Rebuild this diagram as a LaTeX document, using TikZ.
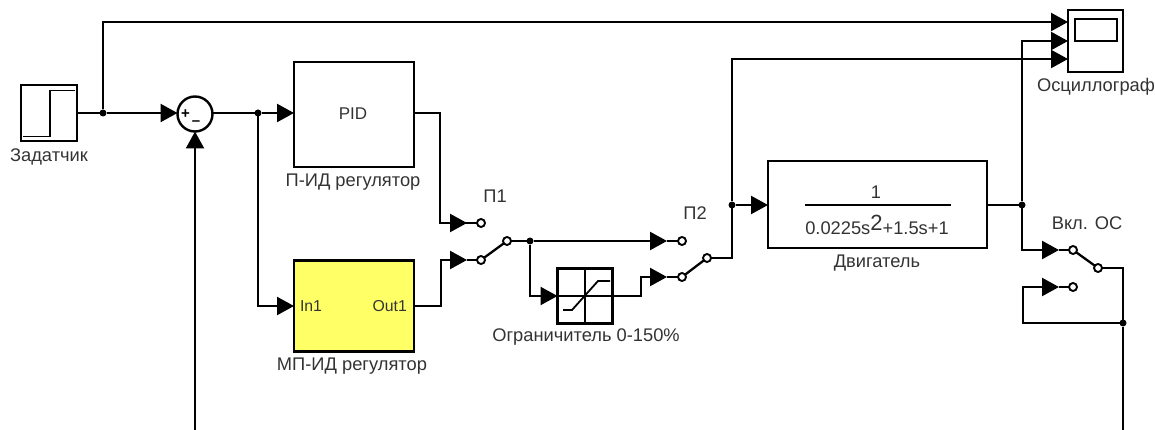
\documentclass[tikz,border=0pt]{standalone}
\usepackage{fontspec}
\setmainfont{Liberation Sans}
\usetikzlibrary{arrows.meta,calc}
\definecolor{txt}{HTML}{333333}
\definecolor{blockyellow}{HTML}{FFFF66}
\tikzset{
  x=1pt,y=-1pt,
  wire/.style={line width=2.3pt,draw=black,line join=miter},
  feed/.style={wire,-{Triangle[length=17pt,width=18pt]}},
  block/.style={draw=black,line width=2.4pt,inner sep=0pt,outer sep=0pt,fill=white},
  port/.style={circle,draw=black,line width=1.9pt,fill=white,minimum size=8pt,inner sep=0pt,outer sep=0pt},
  dot/.style={circle,fill=black,minimum size=7pt,inner sep=0pt,outer sep=0pt},
  lbl/.style={text=txt,font=\fontsize{18.3}{20}\selectfont,inner sep=0pt},
  small/.style={text=txt,font=\fontsize{15.8}{18}\selectfont,inner sep=0pt}
}
\begin{document}
\begin{tikzpicture}
\useasboundingbox (0,0) rectangle (1155,430);
% blocks
\node[block,minimum width=56pt,minimum height=56pt] (step) at (49,113) {};
\node[block,circle,minimum size=35pt] (sum) at (195,114) {};
\node[block,minimum width=120pt,minimum height=105pt] (pid) at (354,114.5) {};
\node[small,font=\fontsize{17}{18}\selectfont] (pidt) at (353,114) {PID};
\node[block,fill=blockyellow,minimum width=120pt,minimum height=91pt] (mp) at (354,306) {};
\node[small] (in1) at (311,306) {In1};
\node[small,anchor=east] (out1) at (407,306) {Out1};
\node[block,minimum width=55pt,minimum height=55pt] (sat) at (585,296) {};
\node[block,minimum width=219pt,minimum height=87pt] (tf) at (877.5,204.5) {};
\node[block,minimum width=55pt,minimum height=62pt] (scope) at (1095.5,41) {};
\node[draw=black,line width=2.2pt,minimum width=42pt,minimum height=22pt,inner sep=0pt] (screen) at (1096,30) {};
% block glyphs
\draw[line width=1.8pt] (23,136.5) -- (50,136.5) -- (50,90.5) -- (75,90.5);
\node[lbl,font=\bfseries\fontsize{15}{15}\selectfont,text=black] (plus) at (185.5,114) {+};
\node[lbl,font=\bfseries\fontsize{15}{15}\selectfont,text=black] (minus) at (196,123) {–};
\draw[line width=1.6pt] (sat.north) -- (sat.south) (sat.west) -- (sat.east);
\draw[line width=1.8pt] (563,310) -- (572,310) -- (598,281) -- (610,281);
\draw[line width=1.8pt] (805,205) -- (951,205);
\node[lbl] (tfn) at (876,192) {1};
\node[lbl] (tfd) at (877,225) {0.0225s\raisebox{4pt}{\fontsize{22}{22}\selectfont 2}+1.5s+1};
% labels
\node[lbl] (l1) at (49,157) {Задатчик};
\node[lbl] (l2) at (353,182) {П-ИД регулятор};
\node[lbl] (l3) at (352,366) {МП-ИД регулятор};
\node[lbl] (l4) at (495,196) {П1};
\node[lbl] (l5) at (695,213) {П2};
\node[lbl] (l6) at (586,337) {Ограничитель 0-150\%};
\node[lbl] (l7) at (877,263) {Двигатель};
\node[lbl] (l8) at (1096,87) {Осциллограф};
\node[lbl] (l9) at (1087,223) {Вкл. ОС};
% junctions
\node[dot] (j1) at (103,113) {};
\node[dot] (j2) at (258,113) {};
\node[dot] (j3) at (530,241) {};
\node[dot] (j4) at (732,205) {};
\node[dot] (j5) at (1022,205) {};
\node[dot] (j6) at (1123,323) {};
% free coordinates
\coordinate (t1) at (467,223);
\coordinate (t2) at (467,260);
\coordinate (t3) at (667,241);
\coordinate (t4) at (667,277);
\coordinate (t5) at (1059,250);
\coordinate (t6) at (1059,287);
\coordinate (bl) at (195,430);
\coordinate (br) at (1123,430);
\coordinate (s1) at (1068,22);
\coordinate (s2) at (1068,41);
\coordinate (s3) at (1068,59);
% connectors drawn under the switch ports
\coordinate (q1) at (481,223);
\coordinate (q2) at (481,260);
\coordinate (q3) at (507,241);
\coordinate (q4) at (682,241);
\coordinate (q5) at (682,277);
\coordinate (q6) at (707,258);
\coordinate (q7) at (1073,250);
\coordinate (q8) at (1073,287);
\coordinate (q9) at (1098,268);
\draw[wire] (j1 -| step.east) -- (j1);
\draw[feed] (j1) -- (j1 -| sum.west);
\draw[feed] (j1) -- (103,22) -- (s1);
\draw[wire] (j2 -| sum.east) -- (j2);
\draw[feed] (j2) -- (j2 -| pid.west);
\draw[feed] (j2) -- (258,306) -- (mp.west);
\draw[wire] (j2 -| pid.east) -- (440,113) -- (440,223) -- (t1);
\draw[feed] (440,223) -- (t1);
\draw[wire] (t1) -- (q1);
\draw[feed] (mp.east) -- (441,306) -- (441,260) -- (t2);
\draw[wire] (t2) -- (q2);
\draw[wire] (q2) -- (q3);
\draw[wire] (q3) -- (j3);
\draw[feed] (j3) -- (t3);
\draw[wire] (t3) -- (q4);
\draw[feed] (j3) -- (530,296) -- (sat.west);
\draw[feed] (sat.east) -- (641,296) -- (641,277) -- (t4);
\draw[wire] (t4) -- (q5);
\draw[wire] (q5) -- (q6);
\draw[wire] (q6) -- (732,258) -- (j4);
\draw[feed] (j4) -- (j4 -| tf.west);
\draw[feed] (j4) -- (732,59) -- (s3);
\draw[wire] (j5 -| tf.east) -- (j5);
\draw[feed] (j5) -- (1022,41) -- (s2);
\draw[feed] (j5) -- (1022,250) -- (t5);
\draw[wire] (t5) -- (q7);
\draw[wire] (q7) -- (q9);
\draw[wire] (q9) -- (1123,268) -- (j6);
\draw[wire] (j6) -- (br);
\draw[feed] (j6) -- (1023,323) -- (1023,287) -- (t6);
\draw[wire] (t6) -- (q8);
\draw[feed] (bl) -- (sum.south);
% switch ports, on top of the wires
\node[port] (p1a) at (q1) {};
\node[port] (p1b) at (q2) {};
\node[port] (p1c) at (q3) {};
\node[port] (p2a) at (q4) {};
\node[port] (p2b) at (q5) {};
\node[port] (p2c) at (q6) {};
\node[port] (p3a) at (q7) {};
\node[port] (p3b) at (q8) {};
\node[port] (p3c) at (q9) {};
\end{tikzpicture}
\end{document}
